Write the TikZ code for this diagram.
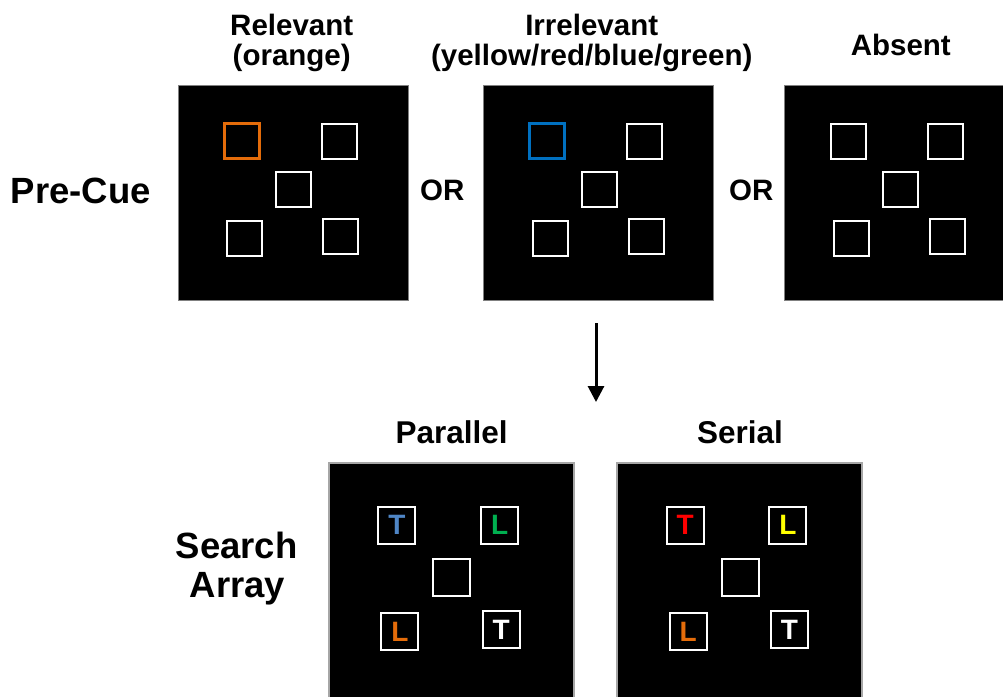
\documentclass[tikz,border=0pt]{standalone}
\usepackage{fontspec}
\setmainfont{Liberation Sans}
\usetikzlibrary{arrows.meta,calc}
\definecolor{cueorange}{RGB}{228,108,10}
\definecolor{cueblue}{RGB}{0,112,192}
\definecolor{letblue}{RGB}{79,134,198}
\definecolor{letgreen}{RGB}{0,176,80}
\definecolor{letorange}{RGB}{228,108,10}
\definecolor{letred}{RGB}{255,0,0}
\definecolor{letyellow}{RGB}{255,255,0}
\definecolor{rimgray}{RGB}{128,128,128}
\definecolor{rimgraylight}{RGB}{166,166,166}
\begin{document}
\begin{tikzpicture}[x=1pt,y=-1pt,
  toppanel/.style={fill=black, draw=rimgray, line width=1pt, inner sep=0pt, minimum width=230pt, minimum height=215pt},
  botpanel/.style={fill=black, draw=rimgraylight, line width=2pt, inner sep=0pt, minimum width=245pt, minimum height=246pt},
  box/.style={draw=white, line width=2pt, inner sep=0pt, minimum size=35pt},
  cuebox/.style={box, line width=3.3pt},
  sbox/.style={draw=white, line width=2pt, inner sep=0pt, minimum size=37pt, font=\fontsize{28}{28}\selectfont\bfseries},
  lab/.style={inner sep=0pt, anchor=base, font=\fontsize{29.5}{35}\selectfont\bfseries},
  blab/.style={inner sep=0pt, anchor=base, font=\fontsize{31.5}{36}\selectfont\bfseries},
  rowlab/.style={inner sep=0pt, anchor=base, font=\fontsize{36.5}{40}\selectfont\bfseries},
  flow/.style={line width=3pt, -{Triangle[width=16pt,length=16pt]}}
]
\useasboundingbox (0,0) rectangle (1003,696);
\clip (0,0) rectangle (1003,696);

% ---- row labels
\node[rowlab] (precue) at (80.8,203.3) {Pre-Cue};
\node[rowlab] (search) at (236.7,558.3) {Search};
\node[rowlab] (array) at (237.5,597) {Array};

% ---- top column labels
\node[lab] (rel1) at (291.7,35) {Relevant};
\node[lab] (rel2) at (291.7,65.3) {(orange)};
\node[lab] (irr1) at (591.7,35) {Irrelevant};
\node[lab] (irr2) at (591.7,65.3) {(yellow/red/blue/green)};
\node[lab] (abs) at (900.8,55) {Absent};

\node[lab] (or1) at (442.2,200) {OR};
\node[lab] (or2) at (751.3,200) {OR};

% ---- top panels
\node[toppanel] (p1) at (293.3,193.3) {};
\node[toppanel] (p2) at (598.6,193.3) {};
\node[toppanel] (p3) at (899.5,193.3) {};

% panel 1: relevant (orange)
\node[cuebox, draw=cueorange] (p1a) at ($(p1.north west)+(64,56)$) {};
\node[box] (p1b) at ($(p1.north west)+(161.3,56)$) {};
\node[box] (p1c) at ($(p1.north west)+(116,104.2)$) {};
\node[box] (p1d) at ($(p1.north west)+(67,152.8)$) {};
\node[box] (p1e) at ($(p1.north west)+(163,151)$) {};

% panel 2: irrelevant (blue)
\node[cuebox, draw=cueblue] (p2a) at ($(p2.north west)+(64,56)$) {};
\node[box] (p2b) at ($(p2.north west)+(161.3,56)$) {};
\node[box] (p2c) at ($(p2.north west)+(116,104.2)$) {};
\node[box] (p2d) at ($(p2.north west)+(67,152.8)$) {};
\node[box] (p2e) at ($(p2.north west)+(163,151)$) {};

% panel 3: absent
\node[box] (p3a) at ($(p3.north west)+(64,56)$) {};
\node[box] (p3b) at ($(p3.north west)+(161.3,56)$) {};
\node[box] (p3c) at ($(p3.north west)+(116,104.2)$) {};
\node[box] (p3d) at ($(p3.north west)+(67,152.8)$) {};
\node[box] (p3e) at ($(p3.north west)+(163,151)$) {};

% ---- arrow
\coordinate (arrS) at (596,323);
\coordinate (arrE) at (596,402);
\draw[flow] (arrS) -- (arrE);

% ---- bottom labels
\node[blab] (par) at (451.6,443.3) {Parallel};
\node[blab] (ser) at (739.9,443.3) {Serial};

% ---- bottom panels
\node[botpanel] (p4) at (451.6,586.2) {};
\node[botpanel] (p5) at (739.9,586.2) {};

\node[sbox, text=letblue] (p4a) at ($(p4.north west)+(68.8,62.8)$) {T};
\node[sbox, text=letgreen] (p4b) at ($(p4.north west)+(171.5,62.8)$) {L};
\node[sbox] (p4c) at ($(p4.north west)+(123.6,115.6)$) {};
\node[sbox, text=letorange] (p4d) at ($(p4.north west)+(71.8,169.6)$) {L};
\node[sbox, text=white] (p4e) at ($(p4.north west)+(173.1,167.3)$) {T};

\node[sbox, text=letred] (p5a) at ($(p5.north west)+(68.8,62.8)$) {T};
\node[sbox, text=letyellow] (p5b) at ($(p5.north west)+(171.5,62.8)$) {L};
\node[sbox] (p5c) at ($(p5.north west)+(123.6,115.6)$) {};
\node[sbox, text=letorange] (p5d) at ($(p5.north west)+(71.8,169.6)$) {L};
\node[sbox, text=white] (p5e) at ($(p5.north west)+(173.1,167.3)$) {T};
\end{tikzpicture}
\end{document}
